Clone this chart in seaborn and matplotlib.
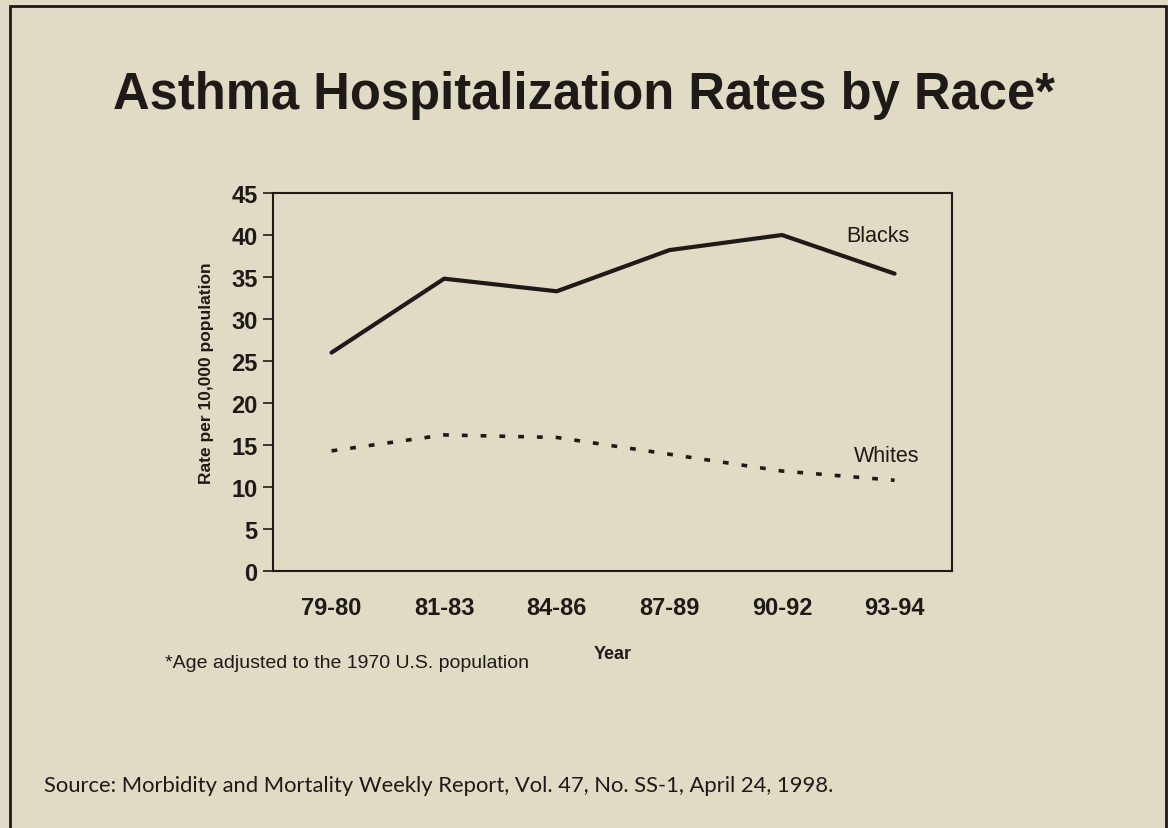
import matplotlib
matplotlib.use('Agg')
import matplotlib.pyplot as plt
import seaborn as sns
import pandas as pd
from matplotlib.patches import Rectangle

years = ['79-80', '81-83', '84-86', '87-89', '90-92', '93-94']
blacks = [26.0, 34.8, 33.3, 38.2, 40.0, 35.4]
whites = [14.3, 16.2, 15.9, 13.9, 11.9, 10.8]
y_ticks = [0, 5, 10, 15, 20, 25, 30, 35, 40, 45]

bg = '#e1dac4'
ink = '#1e1a17'

sns.set_theme(style='white')
plt.rcParams['font.family'] = ['Liberation Sans', 'DejaVu Sans']
narrow = ['Liberation Sans Narrow', 'Liberation Sans', 'DejaVu Sans']

df = pd.DataFrame({'Year': years * 2,
                   'Rate': blacks + whites,
                   'Race': ['Blacks'] * len(years) + ['Whites'] * len(years)})
df['x'] = list(range(len(years))) * 2

fig = plt.figure(figsize=(11.68, 8.29), dpi=100, facecolor=bg)
W, H = 1168, 829
ax = fig.add_axes([273 / W, 1 - 572 / H, (952 - 273) / W, (572 - 194) / H])
ax.set_facecolor(bg)

sns.lineplot(data=df[df.Race == 'Blacks'], x='x', y='Rate', color=ink,
             linewidth=3, ax=ax, legend=False)
sns.lineplot(data=df[df.Race == 'Whites'], x='x', y='Rate', color=ink,
             linewidth=2.6, ax=ax, legend=False, dashes=False)
ax.lines[1].set_dashes((1.6, 3.6))

ax.set_xlim(-0.52, 5.51)
ax.set_ylim(0, 45)
ax.set_xticks(range(len(years)))
ax.set_xticklabels(years, fontsize=17, fontweight='bold', family=narrow, color=ink)
ax.set_yticks(y_ticks)
ax.set_yticklabels([str(t) for t in y_ticks], fontsize=17, fontweight='bold',
                   family=narrow, color=ink)
ax.tick_params(axis='y', direction='out', length=7, width=1.2, color=ink, pad=4, left=True)
ax.tick_params(axis='x', length=0, pad=18)
for s in ax.spines.values():
    s.set_color(ink)
    s.set_linewidth(1.5)
ax.set_xlabel('Year', fontsize=13, fontweight='bold', family=narrow, color=ink, labelpad=19)
ax.set_ylabel('')
fig.text(207 / W, 1 - 373 / H, 'Rate per 10,000 population', fontsize=12.5,
         fontweight='bold', family=narrow, color=ink, rotation=90,
         ha='center', va='center')

ax.text(4.85, 39.9, 'Blacks', fontsize=15.5, color=ink, ha='center', va='center')
ax.text(4.93, 13.8, 'Whites', fontsize=15.5, color=ink, ha='center', va='center')

fig.text(0.5, 1 - 96 / H, 'Asthma Hospitalization Rates by Race*', fontsize=36.5,
         fontweight='bold', color=ink, ha='center', va='center')
fig.text(165 / W, 1 - 664 / H, '*Age adjusted to the 1970 U.S. population',
         fontsize=14, color=ink, ha='left', va='center')
fig.text(44 / W, 1 - 786 / H,
         'Source: Morbidity and Mortality Weekly Report, Vol. 47, No. SS-1, April 24, 1998.',
         fontsize=15.8, color=ink, ha='left', va='center', family=['Lato', 'DejaVu Sans'])

fig.patches.append(Rectangle((10 / W, -0.05), (1166 - 10) / W, 1.05 - 7 / H,
                             transform=fig.transFigure, fill=False,
                             edgecolor=ink, linewidth=2))

fig.savefig('out.png', dpi=100, facecolor=bg)
